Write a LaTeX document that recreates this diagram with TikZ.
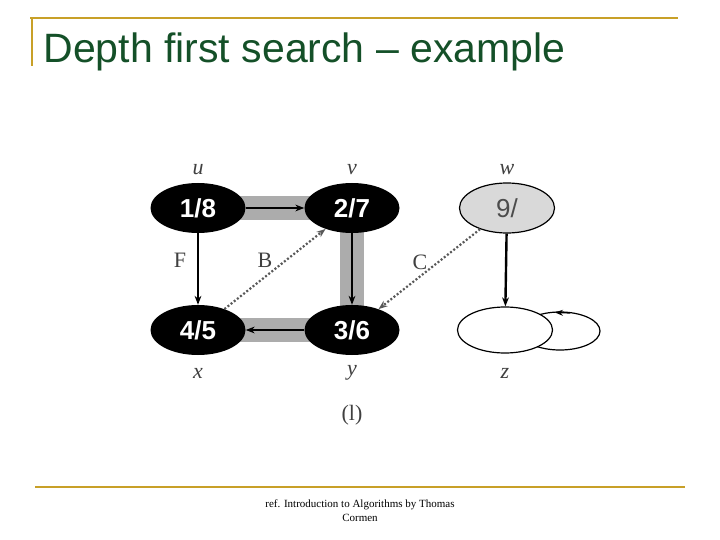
\documentclass[tikz,border=0pt]{standalone}
\usepackage{fontspec}
\setmainfont{Liberation Serif}
\setsansfont{Liberation Sans}
\usetikzlibrary{arrows.meta,shapes.geometric}
\begin{document}
\begin{tikzpicture}[x=1pt,y=-1pt,
 vtx/.style={ellipse,minimum width=95pt,minimum height=50pt,inner sep=0pt,font=\sffamily\bfseries\fontsize{26}{28}\selectfont},
 blk/.style={vtx,fill=black,text=white},
 gry/.style={vtx,draw=black,line width=1.2pt,fill=gray!30,text=black!70,font=\sffamily\fontsize{26}{28}\selectfont},
 wht/.style={vtx,draw=black,line width=1.2pt,fill=white,minimum height=46pt},
 lbl/.style={font=\itshape\fontsize{22}{24}\selectfont,text=black!75},
 elbl/.style={font=\fontsize{22}{24}\selectfont,text=black!75},
 tree/.style={line width=24pt,gray!65},
 edge/.style={-{Stealth[length=9pt]},line width=2.4pt},
 back/.style={-{Stealth[length=9pt]},line width=2.2pt,dash pattern=on 2pt off 2pt,gray!70!black},
 rule/.style={line width=2pt,color={rgb,255:red,200;green,160;blue,40}}]
\useasboundingbox (0,0) rectangle (720,540);
\draw[rule] (30,18) -- (678,18);
\draw[rule] (32,18) -- (32,66);
\draw[rule] (35,487) -- (685,487);
\node[anchor=west,font=\sffamily\fontsize{41}{44}\selectfont,text={rgb,255:red,20;green,80;blue,40}] (title) at (40,52) {Depth first search -- example};
\node[font=\fontsize{11}{14}\selectfont,align=center] (ref) at (360,511) {ref. Introduction to Algorithms by Thomas\\Cormen};
\draw[tree] (198,208) -- (352,208) -- (352,330) -- (198,330);
\draw[line width=1.2pt] (560,331) ellipse (40pt and 19pt);
\node[blk] (u) at (198,208) {1/8};
\node[blk] (v) at (352,208) {2/7};
\node[gry] (w) at (507,208) {9/};
\node[blk] (x) at (198,330) {4/5};
\node[blk] (y) at (352,330) {3/6};
\node[wht] (z) at (505,330) {};
\coordinate (zl) at (555,312.5);
\draw[-{Stealth[length=8pt]},line width=1.2pt] (570,313) -- (zl);
\draw[edge] (u) -- (v);
\draw[edge] (v) -- (y);
\draw[edge] (y) -- (x);
\draw[edge] (u) -- (x);
\draw[edge] (w) -- (z);
\draw[back] (x) -- (v);
\draw[back] (w) -- (y);
\node[lbl] (lu) at (198,170) {u};
\node[lbl] (lv) at (352,170) {v};
\node[lbl] (lw) at (507,170) {w};
\node[lbl] (lx) at (198,373) {x};
\node[lbl] (ly) at (352,373) {y};
\node[lbl] (lz) at (505,373) {z};
\node[elbl] (F) at (180,260) {F};
\node[elbl] (B) at (265,260) {B};
\node[elbl] (C) at (420,262) {C};
\node[elbl] (cap) at (352,415) {(l)};
\end{tikzpicture}
\end{document}
